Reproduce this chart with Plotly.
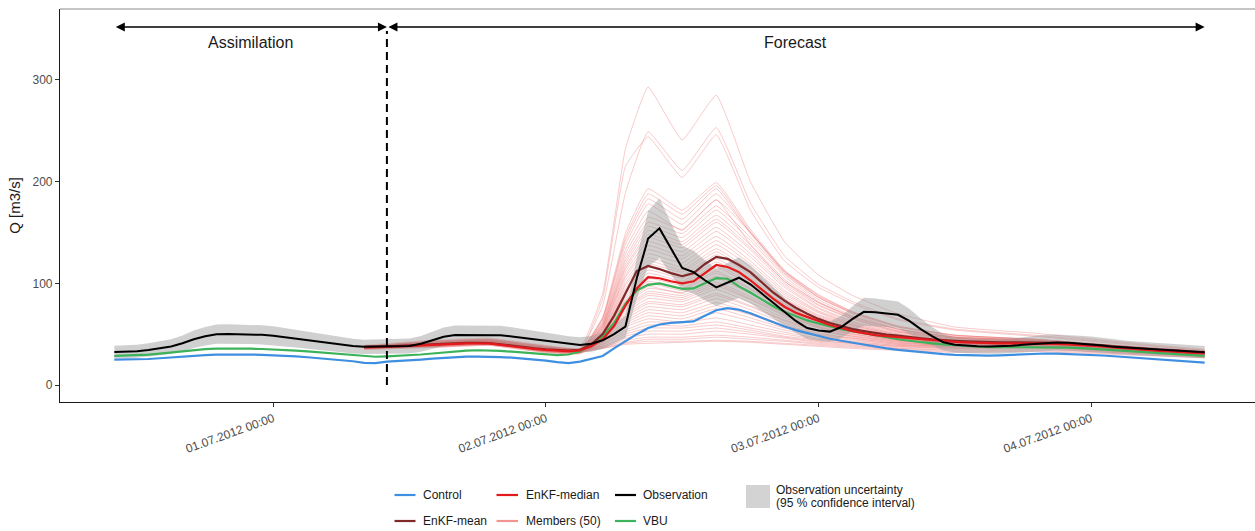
import pandas as pd
import plotly.graph_objects as go

# ---------------------------------------------------------------------------
# Discharge data (m3/s)
# ---------------------------------------------------------------------------
HOURLY_START = "2012-06-30 10:00"
HOURLY_END = "2012-07-04 10:00"
ENKF_START = "2012-07-01 08:00"
FORECAST_START = "2012-07-01 10:00"

# hourly observation, 30.06 10:00 ... 04.07 10:00
observation = [
    32.5, 32.6, 33.2, 34.5, 36.0, 37.8, 41.0, 45.0, 48.0, 50.0, 50.2, 50.0, 49.8, 49.3,
    48.5, 47.0, 45.5, 44.0, 42.5, 41.0, 39.5, 38.3, 37.5, 37.6, 37.8, 38.0, 38.4, 40.5,
    44.0, 47.5, 49.2, 49.3, 49.3, 49.2, 49.0, 47.8, 46.3, 44.8,
    43.3, 41.8, 40.2, 39.4, 40.5, 44.0, 50.0, 57.5, 105.0, 144.0, 154.0, 134.0, 115.0, 111.0,
    103.0, 96.0, 101.0, 105.5, 99.0, 90.0, 81.0, 72.0, 63.0, 56.0,
    53.5, 52.5, 57.0, 65.0, 72.0, 71.5, 70.5, 69.0, 63.0, 55.0, 48.0, 42.0, 39.5, 38.5,
    38.0, 37.8, 38.0, 38.5, 39.5, 40.5, 41.5, 41.8, 41.5, 40.8,
    40.0, 38.8, 37.5, 36.8, 36.0, 35.3, 34.6, 33.9, 33.3, 32.8, 32.2,
]
# relative half-width of the 95 % confidence interval of the gauge
OBS_REL_ERROR = 0.19

# hourly open-loop run, 30.06 10:00 ... 04.07 10:00
control = [
    25.0, 25.0, 25.2, 25.6, 26.3, 27.2, 28.0, 28.8, 29.4, 29.8, 30.0, 30.0, 29.9, 29.7,
    29.3, 28.8, 28.1, 27.3, 26.4, 25.4, 24.4, 23.4, 21.8, 21.6, 23.0, 23.5, 24.2, 25.0,
    25.9, 26.8, 27.5, 27.9, 28.0, 27.9, 27.5, 26.9, 26.0, 25.0,
    24.0, 22.5, 21.5, 23.0, 25.5, 28.5, 36.0, 43.0, 50.0, 56.0, 59.5, 61.0, 61.5, 62.5,
    68.0, 73.5, 75.5, 74.0, 70.5, 66.0, 61.5, 57.5, 54.0, 51.0,
    48.0, 45.5, 43.5, 41.5, 39.5, 37.5, 36.0, 34.5, 33.3, 32.2, 31.2, 30.4, 29.7, 29.2,
    28.8, 28.8, 29.2, 29.8, 30.4, 30.8, 31.0, 30.9, 30.6, 30.2,
    29.6, 29.0, 28.3, 27.6, 26.8, 26.0, 25.2, 24.4, 23.6, 22.8, 22.0,
]

# hourly VBU run, 30.06 10:00 ... 04.07 10:00
vbu = [
    28.6, 28.8, 29.2, 29.8, 30.8, 32.0, 33.2, 34.3, 35.2, 35.7, 35.9, 35.9, 35.7, 35.4,
    35.0, 34.5, 33.8, 33.0, 32.1, 31.2, 30.2, 29.2, 28.3, 27.8, 28.2, 28.6, 29.2, 30.0,
    31.0, 32.2, 33.2, 33.9, 34.2, 34.2, 33.5, 32.8, 32.0, 31.2,
    30.3, 29.3, 30.0, 33.0, 40.0, 48.0, 61.0, 80.0, 93.0, 98.5, 100.0, 97.0, 94.5, 95.0,
    100.0, 105.0, 104.5, 97.0, 91.0, 84.0, 77.5, 72.0, 67.5, 63.5,
    60.5, 57.5, 55.0, 53.0, 51.0, 49.0, 46.5, 45.0, 43.5, 42.0, 41.0, 40.0, 39.0, 38.3,
    37.6, 37.3, 37.2, 37.3, 37.5, 37.6, 37.5, 37.2, 36.8, 36.3,
    35.8, 35.0, 34.3, 33.5, 32.8, 32.0, 31.3, 30.6, 30.0, 29.3, 28.6,
]

# hourly EnKF statistics, 01.07 08:00 ... 04.07 10:00
enkf_median = [
    37.0, 37.0, 37.5, 38.0, 38.5, 39.0, 40.0, 40.5, 41.0, 41.0, 41.0, 41.0,
    39.5, 38.0, 36.8, 35.5,
    34.5, 33.6, 33.3, 34.0, 38.0, 45.0, 58.0, 78.0, 95.0, 106.0, 105.0, 102.0,
    100.0, 102.0, 110.0, 118.0, 116.0, 111.0, 103.0, 94.0, 85.0, 77.0, 71.0, 67.0,
    63.0, 59.0, 56.0, 53.0, 51.0, 49.0, 48.0, 47.0, 46.0, 45.0, 44.0, 43.0,
    42.5, 42.0, 41.5, 41.0, 41.0, 41.0, 41.0, 41.0, 41.0, 40.5, 40.0, 39.5,
    39.0, 38.0, 37.0, 36.0, 35.0, 34.0, 33.5, 33.0, 32.0, 31.5, 31.0,
]
enkf_mean = [
    37.5, 37.5, 38.0, 38.5, 39.0, 39.5, 40.5, 41.0, 41.5, 41.5, 41.5, 41.2,
    40.0, 38.5, 37.3, 36.0,
    35.0, 34.1, 33.8, 34.5, 40.0, 50.0, 68.0, 90.0, 112.0, 117.0, 114.0, 110.0,
    107.0, 110.0, 119.0, 126.0, 124.0, 118.0, 111.0, 101.0, 91.0, 83.0, 76.0, 70.0,
    65.0, 61.0, 58.0, 55.0, 53.0, 51.0, 49.5, 48.5, 47.0, 46.0, 45.0, 44.0,
    43.5, 43.0, 42.5, 42.0, 42.0, 42.0, 42.0, 42.0, 42.0, 41.5, 41.0, 40.5,
    40.0, 39.0, 38.0, 37.0, 36.0, 35.0, 34.5, 34.0, 33.0, 32.5, 32.0,
]

# ensemble members, stored at these time steps
member_times = [
    "2012-07-01 08:00", "2012-07-01 14:00", "2012-07-01 19:00", "2012-07-02 00:00",
    "2012-07-02 03:00", "2012-07-02 05:00", "2012-07-02 07:00", "2012-07-02 09:00",
    "2012-07-02 12:00", "2012-07-02 15:00", "2012-07-02 18:00", "2012-07-02 21:00",
    "2012-07-03 00:00", "2012-07-03 03:00", "2012-07-03 07:00", "2012-07-03 12:00",
    "2012-07-03 19:00", "2012-07-04 02:00", "2012-07-04 10:00",
]
members = [
    [38, 42, 44, 37, 36, 90, 232, 293, 241, 285, 200, 141, 108, 88, 70, 57, 51, 43, 35],
    [38, 41, 43, 36, 34, 78, 189, 249, 211, 253, 179, 127, 99, 82, 65, 55, 49, 42, 34],
    [37, 40, 42, 35, 33, 85, 215, 244, 204, 246, 172, 122, 96, 80, 64, 54, 48, 41, 34],
    [36, 39, 41, 34, 32, 67, 149, 193, 172, 199, 153, 113, 88, 72, 58, 49, 45, 39, 33],
    [38, 43, 45, 38, 35, 66, 145, 188, 168, 196, 151, 111, 87, 71, 57, 49, 45, 39, 33],
    [36, 38, 40, 33, 32, 65, 142, 183, 163, 193, 149, 110, 86, 71, 57, 48, 45, 39, 33],
    [38, 41, 43, 36, 34, 64, 138, 178, 158, 188, 150, 112, 89, 72, 58, 49, 45, 39, 33],
    [37, 40, 42, 35, 33, 62, 133, 171, 152, 182, 138, 102, 81, 67, 55, 47, 44, 38, 33],
    [38, 42, 44, 37, 35, 61, 129, 165, 153, 182, 150, 112, 86, 70, 55, 47, 44, 38, 33],
    [36, 39, 41, 34, 32, 60, 125, 160, 149, 176, 145, 109, 84, 68, 55, 47, 44, 38, 33],
    [39, 44, 46, 39, 36, 59, 122, 156, 145, 172, 142, 107, 82, 67, 54, 47, 44, 38, 33],
    [37, 40, 42, 35, 33, 58, 119, 152, 141, 167, 138, 104, 81, 66, 53, 46, 44, 38, 33],
    [36, 38, 40, 33, 32, 58, 116, 148, 138, 163, 135, 102, 79, 65, 53, 46, 43, 38, 33],
    [38, 41, 43, 36, 34, 57, 114, 145, 135, 160, 133, 100, 78, 65, 52, 46, 43, 38, 32],
    [38, 43, 45, 38, 35, 56, 111, 141, 131, 155, 129, 98, 76, 63, 52, 45, 43, 38, 32],
    [36, 39, 41, 34, 32, 55, 108, 137, 127, 151, 126, 96, 75, 62, 51, 45, 43, 37, 32],
    [37, 40, 42, 35, 33, 55, 106, 133, 124, 146, 122, 93, 73, 61, 50, 44, 43, 37, 32],
    [38, 42, 44, 37, 35, 54, 103, 129, 120, 142, 119, 91, 72, 60, 50, 44, 42, 37, 32],
    [35, 37, 39, 32, 31, 53, 100, 125, 116, 138, 116, 89, 71, 59, 49, 44, 42, 37, 32],
    [38, 41, 43, 36, 34, 52, 98, 122, 113, 134, 112, 87, 69, 59, 49, 43, 42, 37, 32],
    [37, 40, 42, 35, 33, 52, 95, 119, 111, 131, 110, 85, 68, 58, 48, 43, 42, 37, 32],
    [38, 42, 44, 37, 35, 51, 93, 116, 108, 128, 108, 84, 67, 57, 48, 43, 42, 37, 32],
    [36, 39, 41, 34, 32, 51, 91, 113, 105, 124, 105, 82, 66, 56, 47, 42, 41, 37, 32],
    [38, 41, 43, 36, 34, 50, 89, 110, 102, 121, 102, 80, 65, 56, 47, 42, 41, 37, 32],
    [37, 40, 42, 35, 33, 49, 87, 107, 100, 118, 100, 79, 64, 55, 46, 42, 41, 36, 32],
    [36, 38, 40, 33, 32, 49, 85, 105, 98, 116, 98, 78, 63, 54, 46, 42, 41, 36, 32],
    [38, 43, 45, 38, 35, 48, 83, 102, 95, 112, 95, 76, 62, 53, 46, 41, 41, 36, 32],
    [36, 39, 41, 34, 32, 48, 82, 100, 93, 110, 94, 74, 61, 53, 45, 41, 41, 36, 31],
    [38, 41, 43, 36, 34, 47, 80, 97, 90, 107, 91, 73, 60, 52, 45, 41, 41, 36, 31],
    [37, 40, 42, 35, 33, 47, 78, 95, 91, 105, 90, 72, 59, 52, 45, 41, 40, 36, 31],
    [38, 42, 44, 37, 35, 46, 76, 92, 88, 101, 87, 70, 58, 51, 44, 41, 40, 36, 31],
    [36, 38, 40, 33, 32, 46, 75, 90, 86, 99, 85, 69, 57, 50, 44, 40, 40, 36, 31],
    [38, 41, 43, 36, 34, 46, 73, 88, 84, 97, 84, 68, 57, 50, 44, 40, 40, 36, 31],
    [37, 40, 42, 35, 33, 45, 71, 85, 82, 94, 81, 66, 56, 49, 43, 40, 40, 36, 31],
    [35, 37, 39, 32, 31, 44, 69, 82, 79, 90, 78, 64, 54, 48, 43, 40, 40, 36, 31],
    [38, 42, 44, 37, 35, 44, 67, 80, 77, 88, 77, 63, 54, 48, 42, 39, 40, 36, 31],
    [36, 39, 41, 34, 32, 43, 65, 77, 74, 85, 74, 61, 53, 47, 42, 39, 39, 35, 31],
    [38, 41, 43, 36, 34, 43, 63, 74, 71, 81, 71, 59, 51, 46, 41, 39, 39, 35, 31],
    [37, 40, 42, 35, 33, 42, 61, 71, 68, 78, 69, 58, 50, 46, 41, 39, 39, 35, 31],
    [38, 43, 45, 38, 35, 42, 59, 68, 65, 75, 66, 56, 49, 45, 40, 38, 39, 35, 31],
    [36, 38, 40, 33, 32, 41, 57, 65, 62, 71, 63, 54, 48, 44, 40, 38, 39, 35, 31],
    [38, 41, 43, 36, 34, 40, 54, 62, 61, 66, 59, 52, 46, 43, 39, 38, 38, 35, 30],
    [37, 40, 42, 35, 33, 40, 52, 59, 58, 62, 56, 50, 45, 42, 39, 37, 38, 34, 30],
    [36, 39, 41, 34, 32, 39, 50, 56, 56, 59, 54, 48, 44, 41, 38, 37, 38, 34, 30],
    [38, 42, 44, 37, 35, 38, 48, 53, 53, 56, 52, 47, 43, 41, 38, 36, 37, 33, 29],
    [37, 40, 42, 35, 33, 38, 46, 50, 50, 53, 50, 46, 42, 40, 37, 36, 37, 33, 29],
    [36, 38, 40, 33, 32, 37, 44, 47, 47, 49, 47, 44, 41, 39, 36, 35, 36, 32, 28],
    [38, 41, 43, 36, 34, 37, 42, 45, 45, 47, 45, 43, 40, 38, 36, 34, 35, 32, 28],
    [36, 39, 41, 34, 32, 36, 41, 43, 43, 44, 43, 41, 39, 37, 35, 33, 34, 31, 27],
    [37, 40, 42, 35, 33, 36, 40, 41, 42, 43, 42, 40, 38, 36, 34, 32, 33, 30, 27],
]

# axis ticks
x_tick_dates = ["2012-07-01 00:00", "2012-07-02 00:00", "2012-07-03 00:00", "2012-07-04 00:00"]
x_tick_labels = ["01.07.2012 00:00", "02.07.2012 00:00", "03.07.2012 00:00", "04.07.2012 00:00"]
y_ticks = [0, 100, 200, 300]

# ---------------------------------------------------------------------------
# Styling
# ---------------------------------------------------------------------------
FONT = "Liberation Sans, Arial, Helvetica, sans-serif"
C_CONTROL = "#3E8FE0"
C_MEDIAN = "#E3191C"
C_MEAN = "#7E2A2A"
C_MEMBER = "rgba(236,110,110,0.45)"
C_MEMBER_KEY = "#F29494"
C_OBS = "#000000"
C_VBU = "#3CB35B"
C_BAND = "rgba(150,150,150,0.45)"
C_BAND_KEY = "#D3D3D3"

W, H = 1255, 531
M_L, M_R, M_T, M_B = 60, 0, 9, 129
PLOT_W = W - M_L - M_R
PLOT_H = H - M_T - M_B

hourly_times = pd.date_range(HOURLY_START, HOURLY_END, freq="h")
enkf_times = pd.date_range(ENKF_START, HOURLY_END, freq="h")
member_ts = pd.to_datetime(member_times)

fig = go.Figure()

# ensemble members (lightly smoothed curves through the stored time steps)
for row in members:
    fig.add_trace(go.Scatter(
        x=member_ts, y=row, mode="lines",
        line=dict(color=C_MEMBER, width=0.8, shape="spline", smoothing=0.35),
        hoverinfo="skip", showlegend=False,
    ))

# observation uncertainty band
obs_upper = [v * (1 + OBS_REL_ERROR) for v in observation]
obs_lower = [v * (1 - OBS_REL_ERROR) for v in observation]
band_x = list(hourly_times) + list(hourly_times[::-1])
band_y = obs_upper + obs_lower[::-1]
fig.add_trace(go.Scatter(
    x=band_x, y=band_y, mode="lines", fill="toself",
    fillcolor=C_BAND, line=dict(width=0),
    hoverinfo="skip", showlegend=False,
))

fig.add_trace(go.Scatter(x=hourly_times, y=control, mode="lines",
                         line=dict(color=C_CONTROL, width=2.2), name="Control", showlegend=False))
fig.add_trace(go.Scatter(x=hourly_times, y=vbu, mode="lines",
                         line=dict(color=C_VBU, width=2.2), name="VBU", showlegend=False))
fig.add_trace(go.Scatter(x=enkf_times, y=enkf_mean, mode="lines",
                         line=dict(color=C_MEAN, width=2.2), name="EnKF-mean", showlegend=False))
fig.add_trace(go.Scatter(x=enkf_times, y=enkf_median, mode="lines",
                         line=dict(color=C_MEDIAN, width=2.2), name="EnKF-median", showlegend=False))
fig.add_trace(go.Scatter(x=hourly_times, y=observation, mode="lines",
                         line=dict(color=C_OBS, width=2), name="Observation", showlegend=False))

# forecast start marker
fig.add_shape(type="line", xref="x", yref="y",
              x0=FORECAST_START, x1=FORECAST_START, y0=0, y1=348,
              line=dict(color="black", width=2, dash="8px,5px"))

# period arrows and labels
ARROW_Y = 352
for x_start, x_end in [(HOURLY_START, FORECAST_START), (FORECAST_START, HOURLY_END)]:
    fig.add_annotation(x=x_end, y=ARROW_Y, ax=x_start, ay=ARROW_Y,
                       xref="x", yref="y", axref="x", ayref="y",
                       text="", showarrow=True, arrowside="end+start",
                       arrowhead=2, arrowsize=1.2, arrowwidth=1.5, arrowcolor="black")
fig.add_annotation(x="2012-06-30 22:00", y=336.5, xref="x", yref="y", text="Assimilation",
                   showarrow=False, font=dict(family=FONT, size=16, color="#1A1A1A"))
fig.add_annotation(x="2012-07-02 22:00", y=336.5, xref="x", yref="y", text="Forecast",
                   showarrow=False, font=dict(family=FONT, size=16, color="#1A1A1A"))

# top panel border
fig.add_shape(type="line", xref="paper", yref="paper", x0=0, x1=1, y0=1, y1=1,
              line=dict(color="#8C8C8C", width=1))


# legend below the panel (pixel positions converted to paper units)
def px_x(px):
    return (px - M_L) / PLOT_W


def px_y(py):
    return (H - M_B - py) / PLOT_H


legend_rows = [
    (495, [("Control", C_CONTROL), ("EnKF-median", C_MEDIAN), ("Observation", C_OBS)]),
    (521, [("EnKF-mean", C_MEAN), ("Members (50)", C_MEMBER_KEY), ("VBU", C_VBU)]),
]
key_cols = [(394.5, 415.5, 422), (496.5, 518, 525), (615, 636, 641.5)]
for row_y, entries in legend_rows:
    for (label, color), (k0, k1, tx) in zip(entries, key_cols):
        fig.add_shape(type="line", xref="paper", yref="paper",
                      x0=px_x(k0), x1=px_x(k1), y0=px_y(row_y), y1=px_y(row_y),
                      line=dict(color=color, width=2.2))
        fig.add_annotation(x=px_x(tx), y=px_y(row_y), xref="paper", yref="paper",
                           text=label, showarrow=False, xanchor="left", yanchor="middle",
                           borderpad=0, font=dict(family=FONT, size=12, color="#1A1A1A"))

fig.add_shape(type="rect", xref="paper", yref="paper",
              x0=px_x(746), x1=px_x(770), y0=px_y(508), y1=px_y(485),
              fillcolor=C_BAND_KEY, line=dict(width=0))
for text, ty in [("Observation uncertainty", 489.5), ("(95 % confidence interval)", 503)]:
    fig.add_annotation(x=px_x(775), y=px_y(ty), xref="paper", yref="paper",
                       text=text, showarrow=False, xanchor="left", yanchor="middle",
                       borderpad=0, font=dict(family=FONT, size=12, color="#1A1A1A"))

fig.update_layout(
    width=W, height=H,
    margin=dict(l=M_L, r=M_R, t=M_T, b=M_B),
    paper_bgcolor="white", plot_bgcolor="white",
    font=dict(family=FONT),
    showlegend=False,
    xaxis=dict(
        type="date",
        range=["2012-06-30 05:13", "2012-07-04 14:26"],
        tickvals=pd.to_datetime(x_tick_dates), ticktext=x_tick_labels,
        tickangle=-20, tickfont=dict(family=FONT, size=12, color="#4D4D4D"),
        ticks="outside", ticklen=4, tickcolor="#333333", tickwidth=1,
        showline=True, linecolor="#1A1A1A", linewidth=1.2,
        showgrid=False, zeroline=False,
    ),
    yaxis=dict(
        range=[-16.7, 369.7],
        tickvals=y_ticks,
        tickfont=dict(family=FONT, size=12, color="#4D4D4D"),
        ticks="outside", ticklen=4, tickcolor="#333333", tickwidth=1,
        showline=True, linecolor="#1A1A1A", linewidth=1.2,
        showgrid=False, zeroline=False,
        title=dict(text="Q [m3/s]", font=dict(family=FONT, size=15, color="#1A1A1A"), standoff=8),
    ),
)

fig.write_html("out.html")
